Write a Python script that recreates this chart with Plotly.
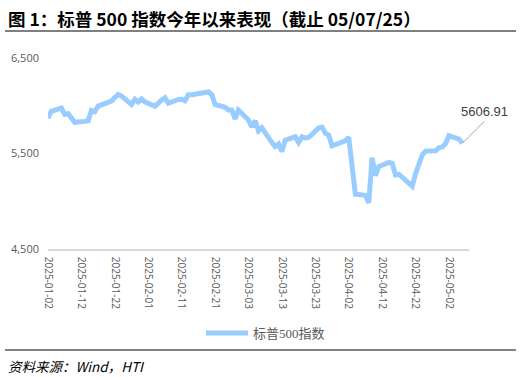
import plotly.graph_objects as go

dates = [
    "2025-01-02","2025-01-03","2025-01-06","2025-01-07","2025-01-08","2025-01-10","2025-01-13","2025-01-14",
    "2025-01-15","2025-01-16","2025-01-17","2025-01-21","2025-01-22","2025-01-23","2025-01-24","2025-01-27",
    "2025-01-28","2025-01-29","2025-01-30","2025-01-31",
    "2025-02-03","2025-02-04","2025-02-05","2025-02-06","2025-02-07","2025-02-10","2025-02-11","2025-02-12",
    "2025-02-13","2025-02-14","2025-02-18","2025-02-19","2025-02-20","2025-02-21","2025-02-24","2025-02-25",
    "2025-02-26","2025-02-27","2025-02-28",
    "2025-03-03","2025-03-04","2025-03-05","2025-03-06","2025-03-07","2025-03-10","2025-03-11","2025-03-12",
    "2025-03-13","2025-03-14","2025-03-17","2025-03-18","2025-03-19","2025-03-20","2025-03-21","2025-03-24",
    "2025-03-25","2025-03-26","2025-03-27","2025-03-28","2025-03-31",
    "2025-04-01","2025-04-02","2025-04-03","2025-04-04","2025-04-07","2025-04-08","2025-04-09","2025-04-10",
    "2025-04-11","2025-04-14","2025-04-15","2025-04-16","2025-04-17","2025-04-21","2025-04-22","2025-04-23",
    "2025-04-24","2025-04-25","2025-04-28","2025-04-29","2025-04-30",
    "2025-05-01","2025-05-02","2025-05-05","2025-05-06",
]
spx = [
    5868.55,5942.47,5975.38,5909.03,5918.25,5827.04,5836.22,5842.91,
    5949.91,5937.34,5996.66,6049.24,6086.37,6118.71,6101.24,6012.28,
    6067.70,6039.31,6071.17,6040.53,
    5994.57,6037.88,6061.48,6083.57,6025.99,6066.44,6068.50,6051.97,
    6115.07,6114.63,6129.58,6144.15,6117.52,6013.13,5983.25,5955.25,
    5956.06,5861.57,5954.50,
    5849.72,5778.15,5842.63,5738.52,5770.20,5614.56,5572.07,5599.30,
    5521.52,5638.94,5675.12,5614.66,5675.29,5662.89,5667.56,5767.57,
    5776.65,5712.20,5693.31,5580.94,5611.85,
    5633.07,5670.97,5396.52,5074.08,5062.25,4982.77,5456.90,5268.05,
    5363.36,5405.97,5396.63,5275.70,5282.70,5158.20,5287.76,5375.86,
    5484.77,5525.21,5528.75,5560.83,5569.06,
    5604.14,5686.67,5650.38,5606.91,
]
series_name = "标普500指数"
title_text = "图 1：标普 500 指数今年以来表现（截止 05/07/25）"
source_text = "资料来源：Wind，HTI"
y_ticks = [4500, 5500, 6500]
y_tick_labels = ["4,500", "5,500", "6,500"]

W, H = 521, 379
L, R, T, B = 48, 469, 58, 249

def px(xp):
    return (xp - L) / (R - L)

def py(yp):
    return (B - yp) / (B - T)

fig = go.Figure()
fig.add_trace(go.Scatter(
    x=dates, y=spx, mode="lines", name=series_name,
    line=dict(color="#99CCFF", width=5), hoverinfo="skip",
))

fig.update_layout(
    width=W, height=H,
    margin=dict(l=L, r=W - R, t=T, b=H - B),
    paper_bgcolor="white", plot_bgcolor="white",
    font=dict(family="Noto Sans CJK SC, Noto Sans, sans-serif", color="#595959"),
    showlegend=True,
    legend=dict(orientation="h", x=px(201), xanchor="left", y=py(333), yanchor="middle",
                font=dict(family="Liberation Serif, Noto Sans CJK SC", size=13, color="#595959"),
                itemwidth=42, bgcolor="rgba(0,0,0,0)"),
    xaxis=dict(
        type="date", range=["2025-01-02", "2025-05-08"],
        tick0="2025-01-02", dtick=10 * 86400000, tickformat="%Y-%m-%d",
        tickangle=90, showgrid=False, zeroline=False,
        showline=True, linecolor="#D9D9D9", linewidth=1.5,
        ticks="", ticklabelstandoff=4,
        tickfont=dict(family="Open Sans, Noto Sans, sans-serif", size=10, color="#595959"),
    ),
    yaxis=dict(
        range=[4500, 6500], tickvals=y_ticks, ticktext=y_tick_labels,
        showgrid=False, zeroline=False, showline=False, ticks="",
        ticklabelstandoff=8,
        tickfont=dict(family="Open Sans, Noto Sans, sans-serif", size=11, color="#595959"),
    ),
)

annotations = [
    dict(text="<b>" + title_text + "</b>", x=px(6), y=py(18), xref="paper", yref="paper",
         xanchor="left", yanchor="middle", showarrow=False,
         font=dict(family="Noto Sans CJK SC", size=17.5, color="#000000")),
    dict(text="<i>" + source_text + "</i>", x=px(6), y=py(366), xref="paper", yref="paper",
         xanchor="left", yanchor="middle", showarrow=False,
         font=dict(family="Noto Sans CJK SC, Liberation Sans", size=13.5, color="#000000")),
    dict(text=f"{spx[-1]:.2f}", x=dates[-1], y=spx[-1], xref="x", yref="y",
         showarrow=True, arrowhead=0, arrowwidth=1, arrowcolor="#A6A6A6",
         ax=22, ay=-22, xanchor="center", yanchor="bottom",
         font=dict(family="Liberation Sans, Arial", size=13, color="#404040")),
]
fig.update_layout(annotations=annotations)

fig.add_shape(type="line", xref="paper", yref="paper", x0=px(5), x1=px(516), y0=py(31), y1=py(31),
              line=dict(color="#000000", width=1))
fig.add_shape(type="line", xref="paper", yref="paper", x0=px(5), x1=px(516), y0=py(350), y1=py(350),
              line=dict(color="#595959", width=1.5))

fig.write_html("out.html")
